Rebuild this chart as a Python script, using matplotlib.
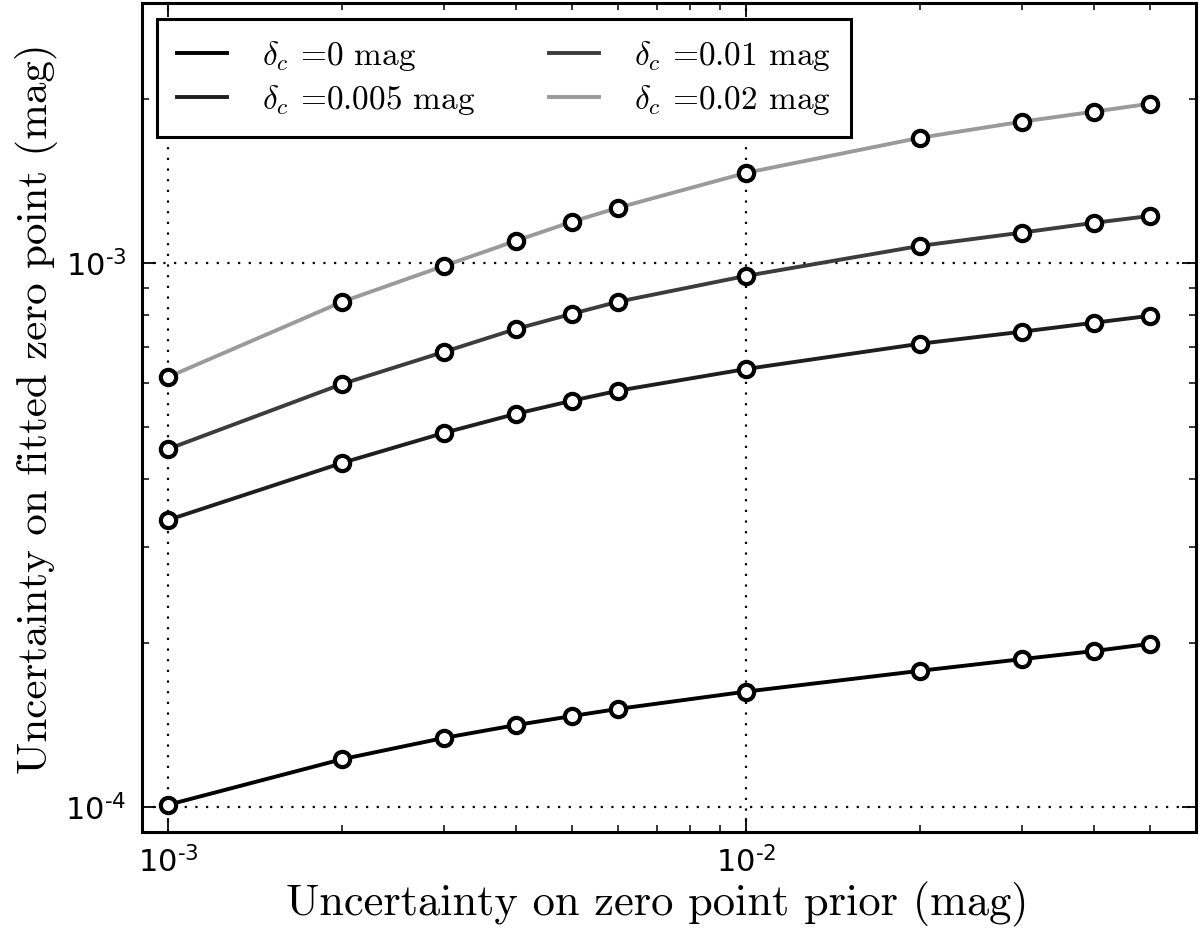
import numpy as np
import matplotlib
matplotlib.use('Agg')
import matplotlib.pyplot as plt
from matplotlib.ticker import FuncFormatter, NullFormatter

plt.rcParams['mathtext.fontset'] = 'cm'
plt.rcParams['axes.unicode_minus'] = False

# prior uncertainty on zero point (mag)
prior = [0.001, 0.002, 0.003, 0.004, 0.005, 0.006, 0.01, 0.02, 0.03, 0.04, 0.05]

# fitted zero point uncertainty for each delta_c
fit_dc0 = [1.01e-4, 1.225e-4, 1.34e-4, 1.415e-4, 1.47e-4, 1.515e-4, 1.63e-4, 1.78e-4, 1.87e-4, 1.935e-4, 1.995e-4]
fit_dc0005 = [3.37e-4, 4.29e-4, 4.87e-4, 5.28e-4, 5.58e-4, 5.82e-4, 6.38e-4, 7.10e-4, 7.47e-4, 7.76e-4, 7.99e-4]
fit_dc001 = [4.55e-4, 5.99e-4, 6.86e-4, 7.56e-4, 8.06e-4, 8.48e-4, 9.46e-4, 1.074e-3, 1.136e-3, 1.184e-3, 1.219e-3]
fit_dc002 = [6.17e-4, 8.48e-4, 9.87e-4, 1.098e-3, 1.19e-3, 1.262e-3, 1.463e-3, 1.697e-3, 1.816e-3, 1.895e-3, 1.96e-3]

labels = [r'$\delta_c$ =0 mag', r'$\delta_c$ =0.005 mag', r'$\delta_c$ =0.01 mag', r'$\delta_c$ =0.02 mag']
colors = ['#000000', '#1e1e1e', '#3c3c3c', '#9a9a9a']


def pow_label(v, pos):
    # old-style exponent with a plain hyphen
    e = int(round(np.log10(v)))
    return r'$\mathdefault{10^{%s}}$' % str(e).replace('-', '\u2010')


fig = plt.figure(figsize=(12.04, 9.38), dpi=100)
ax = fig.add_axes([142 / 1204, 1 - 832 / 938, (1196 - 142) / 1204, (832 - 3) / 938])

for ys, lab, c in zip([fit_dc0, fit_dc0005, fit_dc001, fit_dc002], labels, colors):
    ax.plot(prior, ys, color=c, lw=2.8, label=lab)
    ax.plot(prior, ys, 'o', mfc='white', mec='black', mew=3, ms=11)

ax.set_xscale('log')
ax.set_yscale('log')
ax.set_xlim(9e-4, 6e-2)
ax.set_ylim(9e-5, 3e-3)

ax.grid(True, which='major', color='black', linestyle=(0, (1, 3.8)), lw=1.6)
for s in ax.spines.values():
    s.set_linewidth(2.2)
ax.tick_params(which='both', direction='in', top=True, right=True)
ax.tick_params(which='major', length=10, width=1.3, labelsize=22)
ax.tick_params(which='minor', length=5, width=1.1)
ax.tick_params(axis='x', which='major', pad=10)
ax.tick_params(axis='y', which='major', pad=11)
ax.xaxis.set_major_formatter(FuncFormatter(pow_label))
ax.yaxis.set_major_formatter(FuncFormatter(pow_label))
ax.xaxis.set_minor_formatter(NullFormatter())
ax.yaxis.set_minor_formatter(NullFormatter())
for t in ax.get_xticklabels() + ax.get_yticklabels():
    t.set_fontfamily('DejaVu Sans')

ax.set_xlabel('Uncertainty on zero point prior (mag)', fontfamily='cmr10', fontsize=32)
ax.set_ylabel('Uncertainty on fitted zero point (mag)', fontfamily='cmr10', fontsize=31)
ax.xaxis.set_label_coords(0.489, -0.060)
ax.yaxis.set_label_coords(-0.080, 0.51)

leg = ax.legend(loc='upper left', ncol=2, prop={'family': 'cmr10', 'size': 24},
                fancybox=False, edgecolor='black', framealpha=1,
                handlelength=1.5, columnspacing=2.2, handletextpad=1.05,
                borderpad=0.6, labelspacing=0.3, borderaxespad=0,
                bbox_to_anchor=(0.0142, 0.9805))
leg.get_frame().set_linewidth(2.2)

fig.savefig('out.png', dpi=100)
